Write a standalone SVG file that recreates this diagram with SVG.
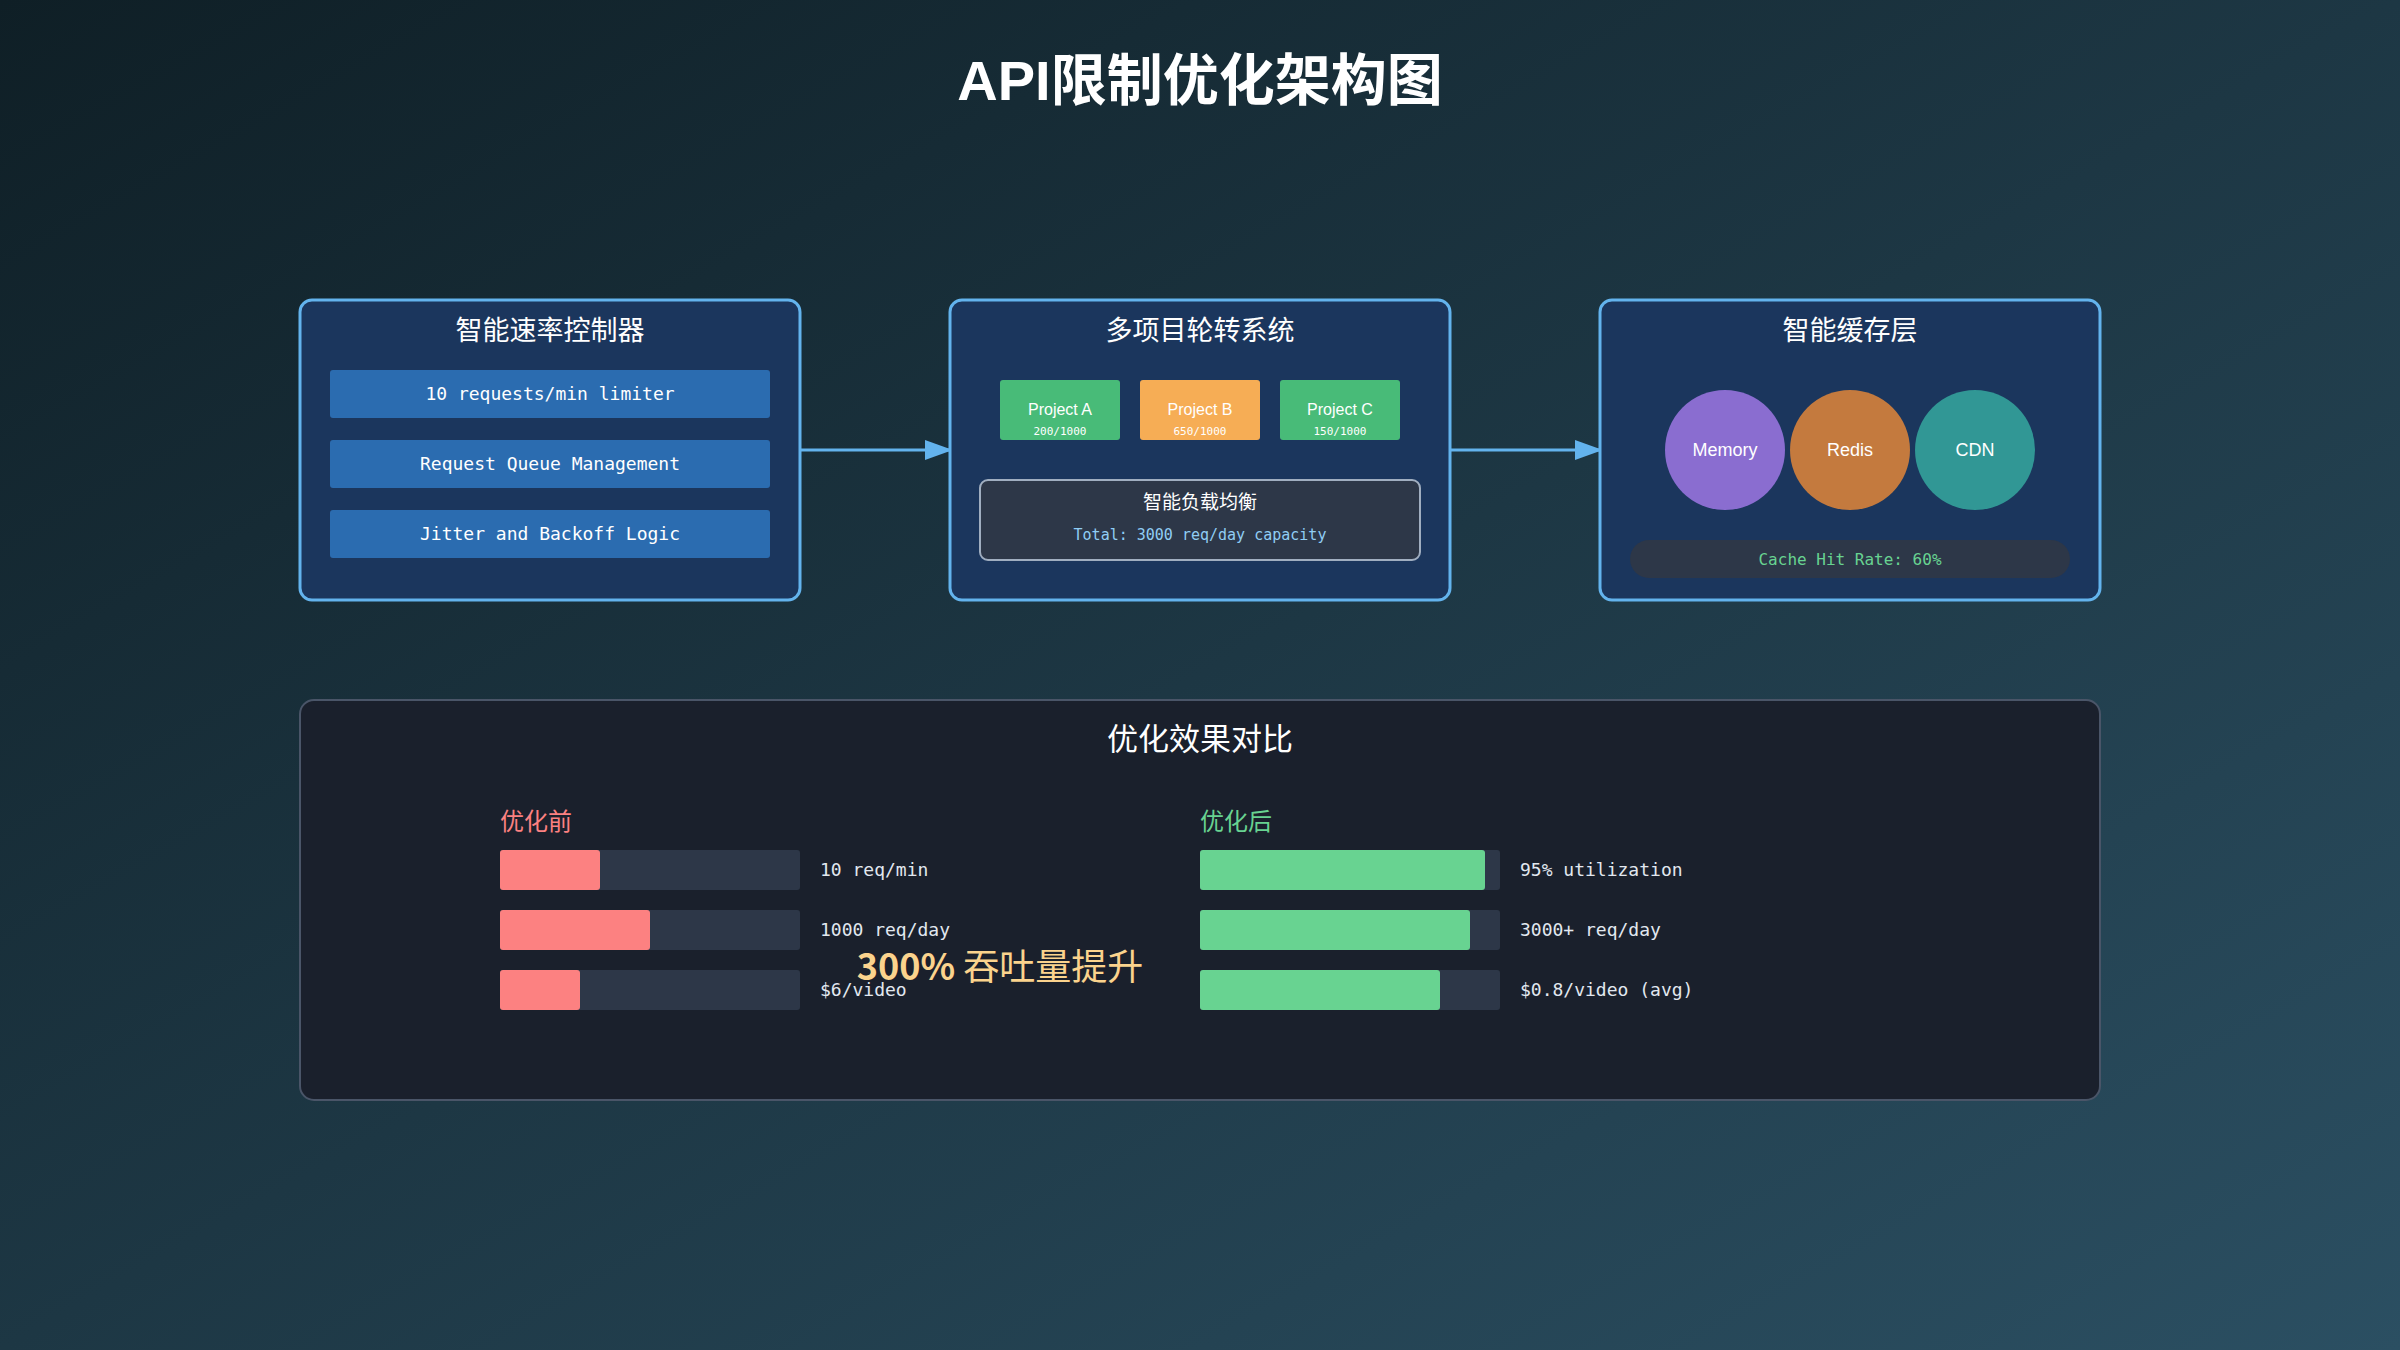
<svg xmlns="http://www.w3.org/2000/svg" width="2400" height="1350" viewBox="0 0 2400 1350">
<defs>
<linearGradient id="bg" x1="0" y1="0" x2="1" y2="1">
<stop offset="0" stop-color="#0f1f26"/><stop offset="1" stop-color="#2b4f62"/>
</linearGradient>
<marker id="arr" viewBox="0 0 10 10" refX="9" refY="5" markerWidth="28" markerHeight="20" markerUnits="userSpaceOnUse" orient="auto" preserveAspectRatio="none"><path d="M0,0 L10,5 L0,10 z" fill="#63b3ed"/></marker>
<style>
.panel{fill:#1b365d;stroke:#63b3ed;stroke-width:3}
.ttl{font-family:"Noto Sans CJK SC","Noto Sans",sans-serif;fill:#fff;font-size:27px;text-anchor:middle}
.mono{font-family:"DejaVu Sans Mono","Liberation Mono",monospace}
.bar{fill:#2b6cb0}
.bt{fill:#fff;font-size:18px;text-anchor:middle}
.proj{font-family:"Liberation Sans",Arial,sans-serif;fill:#fff;font-size:16px;text-anchor:middle}
.ps{fill:#fff;font-size:11px;text-anchor:middle}
.trk{fill:#2d3748}
.lbl{fill:#e2e8f0;font-size:18px}
.conn{stroke:#63b3ed;stroke-width:3;fill:none;marker-end:url(#arr)}
</style>
</defs>
<rect width="2400" height="1350" fill="url(#bg)"/>
<text x="1200" y="100" text-anchor="middle" font-family="Liberation Sans,'Noto Sans CJK SC',sans-serif" font-weight="bold" font-size="56" fill="#fff">API限制优化架构图</text>

<g id="connectors">
<line class="conn" x1="800" y1="450" x2="950" y2="450"/>
<line class="conn" x1="1450" y1="450" x2="1600" y2="450"/>
</g>

<g id="rate-controller">
<rect class="panel" x="300" y="300" width="500" height="300" rx="12"/>
<text class="ttl" x="550" y="340">智能速率控制器</text>
<rect class="bar" x="330" y="370" width="440" height="48" rx="3"/>
<text class="bt mono" x="550" y="400">10 requests/min limiter</text>
<rect class="bar" x="330" y="440" width="440" height="48" rx="3"/>
<text class="bt mono" x="550" y="470">Request Queue Management</text>
<rect class="bar" x="330" y="510" width="440" height="48" rx="3"/>
<text class="bt mono" x="550" y="540">Jitter and Backoff Logic</text>
</g>

<g id="rotation">
<rect class="panel" x="950" y="300" width="500" height="300" rx="12"/>
<text class="ttl" x="1200" y="340">多项目轮转系统</text>
<rect x="1000" y="380" width="120" height="60" rx="3" fill="#48bb78"/>
<text class="proj" x="1060" y="415">Project A</text><text class="ps mono" x="1060" y="435">200/1000</text>
<rect x="1140" y="380" width="120" height="60" rx="3" fill="#f6ad55"/>
<text class="proj" x="1200" y="415">Project B</text><text class="ps mono" x="1200" y="435">650/1000</text>
<rect x="1280" y="380" width="120" height="60" rx="3" fill="#48bb78"/>
<text class="proj" x="1340" y="415">Project C</text><text class="ps mono" x="1340" y="435">150/1000</text>
<rect x="980" y="480" width="440" height="80" rx="8" fill="#2d3748" stroke="#a0aec0" stroke-width="2"/>
<text class="ttl" x="1200" y="509" style="font-size:19px">智能负载均衡</text>
<text class="mono" x="1200" y="540" font-size="15" fill="#90cdf4" text-anchor="middle">Total: 3000 req/day capacity</text>
</g>

<g id="cache">
<rect class="panel" x="1600" y="300" width="500" height="300" rx="12"/>
<text class="ttl" x="1850" y="340">智能缓存层</text>
<circle cx="1725" cy="450" r="60" fill="#8a6dd0"/><text class="proj" x="1725" y="456" style="font-size:18px">Memory</text>
<circle cx="1850" cy="450" r="60" fill="#c47a3e"/><text class="proj" x="1850" y="456" style="font-size:18px">Redis</text>
<circle cx="1975" cy="450" r="60" fill="#319795"/><text class="proj" x="1975" y="456" style="font-size:18px">CDN</text>
<rect x="1630" y="540" width="440" height="38" rx="19" fill="#2d3748"/>
<text class="mono" x="1850" y="565" font-size="16" fill="#68d391" text-anchor="middle">Cache Hit Rate: 60%</text>
</g>

<g id="comparison">
<rect x="300" y="700" width="1800" height="400" rx="14" fill="#1a202c" stroke="#4a5568" stroke-width="2"/>
<text class="ttl" x="1200" y="750" style="font-size:31px">优化效果对比</text>
<text x="500" y="830" font-family="'Noto Sans CJK SC',sans-serif" font-size="24" fill="#fc8181">优化前</text>
<rect class="trk" x="500" y="850" width="300" height="40" rx="3"/><rect x="500" y="850" width="100" height="40" rx="3" fill="#fc8181"/>
<text class="lbl mono" x="820" y="876">10 req/min</text>
<rect class="trk" x="500" y="910" width="300" height="40" rx="3"/><rect x="500" y="910" width="150" height="40" rx="3" fill="#fc8181"/>
<text class="lbl mono" x="820" y="936">1000 req/day</text>
<rect class="trk" x="500" y="970" width="300" height="40" rx="3"/><rect x="500" y="970" width="80" height="40" rx="3" fill="#fc8181"/>
<text class="lbl mono" x="820" y="996">$6/video</text>

<text x="1200" y="830" font-family="'Noto Sans CJK SC',sans-serif" font-size="24" fill="#68d391">优化后</text>
<rect class="trk" x="1200" y="850" width="300" height="40" rx="3"/><rect x="1200" y="850" width="285" height="40" rx="3" fill="#68d391"/>
<text class="lbl mono" x="1520" y="876">95% utilization</text>
<rect class="trk" x="1200" y="910" width="300" height="40" rx="3"/><rect x="1200" y="910" width="270" height="40" rx="3" fill="#68d391"/>
<text class="lbl mono" x="1520" y="936">3000+ req/day</text>
<rect class="trk" x="1200" y="970" width="300" height="40" rx="3"/><rect x="1200" y="970" width="240" height="40" rx="3" fill="#68d391"/>
<text class="lbl mono" x="1520" y="996">$0.8/video (avg)</text>

<text x="1000" y="980" text-anchor="middle" font-family="'Noto Sans CJK SC',sans-serif" font-size="36" fill="#fbd38d"><tspan font-weight="bold">300%</tspan> 吞吐量提升</text>
</g>
</svg>
